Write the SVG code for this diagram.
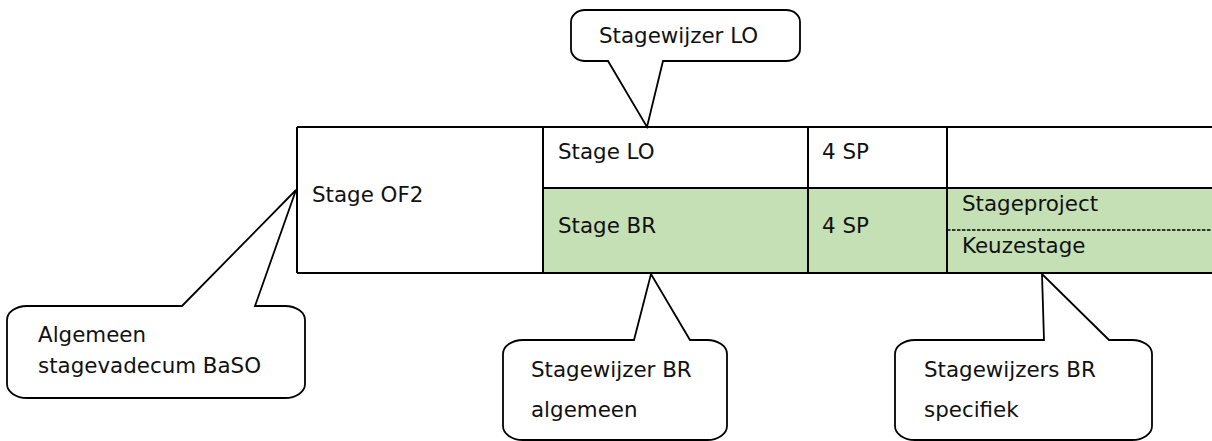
<svg xmlns="http://www.w3.org/2000/svg" width="1212" height="441" viewBox="0 0 1212 441">
<style>
text{font-family:"DejaVu Sans","Verdana",sans-serif;font-size:21.4px;fill:#111}
.ln{stroke:#000;stroke-width:2;fill:none}
.callout{fill:#fff;stroke:#000;stroke-width:1.8;stroke-linejoin:miter}
.green{fill:#c5e0b4}
</style>
<rect width="1212" height="441" fill="#fff"/>
<g id="table">
<rect class="green" x="543" y="188" width="680" height="85"/>
<g class="ln">
<path d="M297,127 H1220 M297,273 H1220 M297,127 V273 M543,127 V273 M808,127 V273 M947,127 V273 M543,188 H1220"/>
<path d="M947,230 H1220" stroke-dasharray="3.5,1.5" stroke-width="1.5"/>
</g>
</g>
<g id="cell-of2"><text x="312" y="202">Stage OF2</text></g>
<g id="cell-lo"><text x="558" y="159">Stage LO</text><text x="822" y="159">4 SP</text></g>
<g id="cell-br"><text x="558" y="233">Stage BR</text><text x="822" y="233">4 SP</text></g>
<g id="cell-options"><text x="962" y="211">Stageproject</text><text x="962" y="253">Keuzestage</text></g>
<g id="connectors"></g>
<g id="callout-lo">
<path class="callout" d="M585,10 H786 A14 12 0 0 1 800 22 V49 A14 12 0 0 1 786 61 H663 L647,127 L608,61 H585 A14 12 0 0 1 571 49 V22 A14 12 0 0 1 585 10 Z"/>
<text x="599" y="43">Stagewijzer LO</text>
</g>
<g id="callout-baso">
<path class="callout" d="M27,306 H182 L296,190 L255,306 H285 A20 14 0 0 1 305 320 V384 A20 14 0 0 1 285 398 H27 A20 14 0 0 1 7 384 V320 A20 14 0 0 1 27 306 Z"/>
<text x="38" y="342">Algemeen</text>
<text x="38" y="373">stagevadecum BaSO</text>
</g>
<g id="callout-br-algemeen">
<path class="callout" d="M523,340 H634 L651,274 L690,340 H707 A20 14 0 0 1 727 354 V426 A20 14 0 0 1 707 440 H523 A20 14 0 0 1 503 426 V354 A20 14 0 0 1 523 340 Z"/>
<text x="531" y="377">Stagewijzer BR</text>
<text x="531" y="417">algemeen</text>
</g>
<g id="callout-br-specifiek">
<path class="callout" d="M915,340 H1044 L1042,274 L1109,340 H1132 A20 14 0 0 1 1152 354 V426 A20 14 0 0 1 1132 440 H915 A20 14 0 0 1 895 426 V354 A20 14 0 0 1 915 340 Z"/>
<text x="924" y="377">Stagewijzers BR</text>
<text x="924" y="417">specifiek</text>
</g>
</svg>
